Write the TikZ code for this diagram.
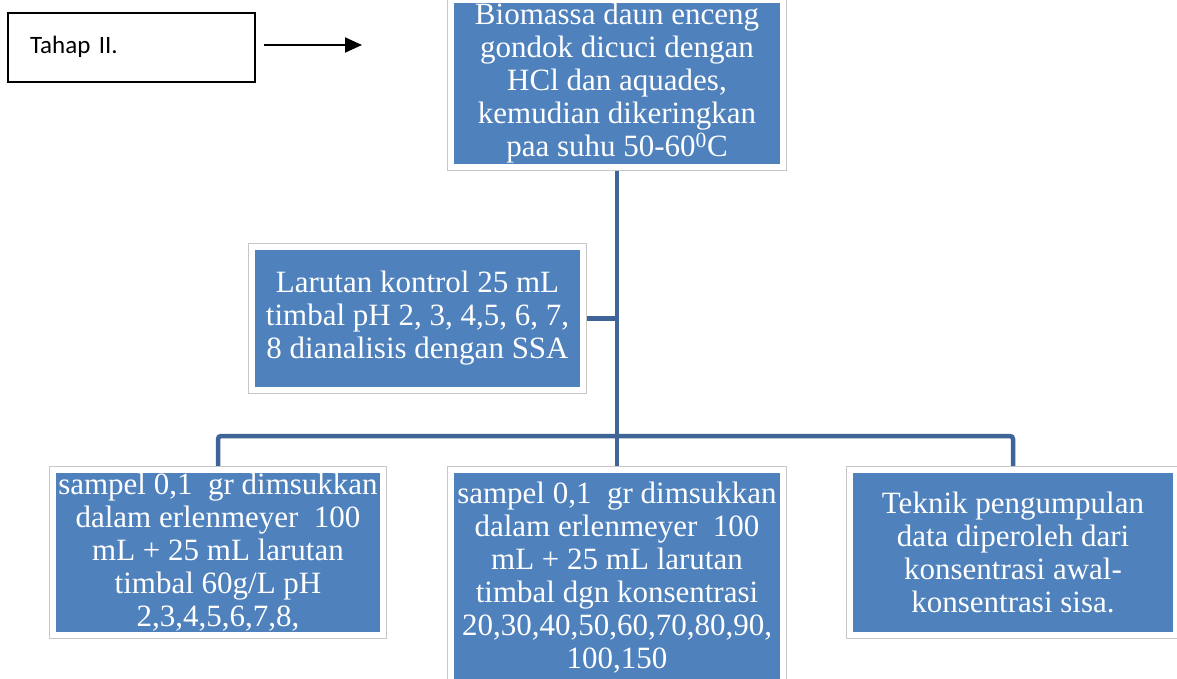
\documentclass[tikz,border=0pt]{standalone}
\usepackage{fontspec}
\setmainfont{Liberation Serif}
\newfontfamily\calibri{Carlito}
\usetikzlibrary{arrows.meta,backgrounds}
\definecolor{boxblue}{HTML}{4F81BD}
\definecolor{lineblue}{HTML}{3E6498}
\tikzset{
  bluebox/.style={rectangle, fill=boxblue, draw=white, line width=6pt,
    preaction={draw=black!22, line width=7.5pt},
    text=white, font=\fontsize{31}{33}\selectfont, align=center, inner sep=0pt},
  conn/.style={draw=lineblue, line width=4.5pt, rounded corners=3pt},
  labelbox/.style={rectangle, draw=black, line width=1.5pt, inner sep=0pt,
    align=left, font=\calibri\fontsize{25}{28}\selectfont},
  arrowline/.style={line width=2pt, -{Triangle[length=17pt,width=15pt]}}
}
\begin{document}
\begin{tikzpicture}[x=1pt,y=-1pt]
\useasboundingbox (0,0) rectangle (1177,679);

\node[labelbox, minimum width=247pt, minimum height=69pt, text width=203pt] (tahap) at (131.5,47.5) {\raisebox{6pt}{Tahap II.}};
\coordinate (arrowend) at (362,45);
\draw[arrowline] ([xshift=8pt,yshift=2.5pt]tahap.east) -- (arrowend);

\node[bluebox, minimum width=332pt, minimum height=167pt] (top) at (617,83.5)
  {Biomassa daun enceng\\gondok dicuci dengan\\HCl dan aquades,\\kemudian dikeringkan\\paa suhu 50-60\textsuperscript{0}C};

\node[bluebox, minimum width=331pt, minimum height=143pt] (ctrl) at (417.5,318.5)
  {Larutan kontrol 25 mL\\timbal pH 2, 3, 4,5, 6, 7,\\8 dianalisis dengan SSA};

\node[bluebox, minimum width=330pt, minimum height=165pt] (bl) at (218,552.5)
  {sampel 0,1 \ gr dimsukkan\\dalam erlenmeyer \ 100\\mL + 25 mL larutan\\timbal 60g/L pH\\2,3,4,5,6,7,8,};

\node[bluebox, minimum width=332pt, minimum height=216pt] (bm) at (617,578)
  {sampel 0,1 \ gr dimsukkan\\dalam erlenmeyer \ 100\\mL + 25 mL larutan\\timbal dgn konsentrasi\\20,30,40,50,60,70,80,90,\\100,150};

\node[bluebox, minimum width=326pt, minimum height=165pt] (br) at (1013,552.5)
  {Teknik pengumpulan\\data diperoleh dari\\konsentrasi awal-\\konsentrasi sisa.};

\coordinate (bus) at (617,436);
\begin{pgfonlayer}{background}
\draw[conn] (top.south) -- (bm.north);
\draw[conn] (ctrl.east) -- (ctrl.east -| top.south);
\draw[conn] (bl.north) |- (bus) -| (br.north);
\end{pgfonlayer}
\end{tikzpicture}
\end{document}
